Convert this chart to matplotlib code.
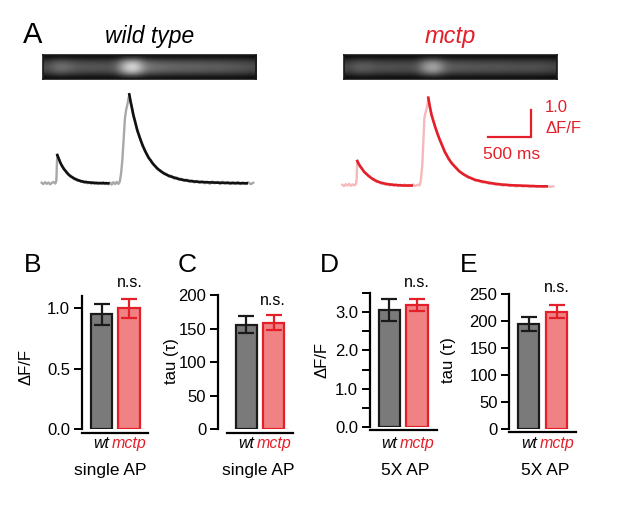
import numpy as np
import matplotlib
matplotlib.use("Agg")
import matplotlib.pyplot as plt

plt.rcParams['font.family'] = ['Liberation Sans', 'DejaVu Sans']

RED = '#e3202a'
PINK = '#f5b9bb'
GRAY_RAW = '#a8a8a8'
BAR_GRAY = '#7a7a7a'
BAR_RED = '#f08284'

# ---- panel A data (time in ms, amplitude in dF/F) ----
wt_raw_t = [0, 20, 40, 60, 80, 100, 120, 140, 160, 172, 178, 183, 195, 210, 225, 240, 260, 280,
            300, 320, 340, 360, 380, 400, 420, 440, 460, 480, 500, 520, 540, 560, 580, 600, 620,
            640, 660, 680, 700, 720, 740, 760, 780, 800, 820, 840, 860, 880, 900, 915, 930, 945,
            960, 975, 990, 1005, 1015, 1027, 1040, 1055, 1075, 1095, 1120, 1150, 1180, 1210,
            1250, 1280, 1310, 1340, 1370, 1400, 1430, 1460, 1490, 1520, 1550, 1580, 1610, 1640,
            1670, 1700, 1730, 1760, 1790, 1820, 1850, 1880, 1910, 1940, 1970, 2000, 2030, 2060,
            2090, 2120, 2150, 2180, 2210, 2240, 2270, 2300, 2330, 2360, 2390, 2420, 2450, 2480]
wt_raw_v = [0.02, -0.03, 0.04, -0.02, 0.03, -0.04, 0.02, 0.05, -0.01, 0.10, 0.70, 1.05, 0.95,
            0.86, 0.72, 0.66, 0.52, 0.47, 0.36, 0.33, 0.24, 0.24, 0.15, 0.17, 0.09, 0.12, 0.05,
            0.09, 0.02, 0.07, 0.00, 0.05, -0.02, 0.04, -0.02, 0.03, -0.03, 0.02, -0.02, 0.04,
            -0.03, 0.02, -0.04, 0.03, -0.05, 0.04, -0.03, 0.05, -0.02, 0.06, 0.35, 0.85, 1.60,
            2.40, 2.75, 2.95, 3.15, 3.30, 3.05, 2.90, 2.50, 2.35, 1.95, 1.75, 1.40, 1.26, 0.95,
            0.86, 0.70, 0.62, 0.50, 0.47, 0.36, 0.36, 0.25, 0.28, 0.18, 0.22, 0.13, 0.17, 0.09,
            0.14, 0.06, 0.11, 0.03, 0.09, 0.02, 0.08, 0.00, 0.06, -0.02, 0.07, 0.00, 0.05, -0.03,
            0.06, -0.01, 0.05, -0.03, 0.04, -0.02, 0.05, -0.03, 0.03, -0.02, 0.04, -0.03, 0.02]
wt_fit1_t = [183, 200, 220, 240, 260, 290, 320, 360, 400, 450, 500, 560, 640, 781]
wt_fit1_v = [1.06, 0.92, 0.76, 0.64, 0.54, 0.42, 0.31, 0.22, 0.15, 0.09, 0.05, 0.03, 0.01, 0.0]
wt_fit2_t = [1027, 1040, 1055, 1075, 1095, 1120, 1150, 1180, 1210, 1250, 1300, 1350, 1400,
             1450, 1500, 1575, 1650, 1750, 1850, 2000, 2200, 2403]
wt_fit2_v = [3.33, 3.10, 2.86, 2.56, 2.30, 2.00, 1.70, 1.45, 1.22, 0.98, 0.75, 0.57, 0.44,
             0.34, 0.27, 0.19, 0.13, 0.08, 0.05, 0.03, 0.01, 0.0]

mc_raw_t = [0, 20, 40, 60, 80, 100, 120, 140, 160, 168, 172, 176, 190, 210, 230, 255, 280, 305,
            330, 355, 380, 405, 430, 455, 480, 505, 530, 555, 580, 605, 630, 655, 680, 705, 730,
            755, 780, 805, 830, 855, 880, 905, 920, 938, 950, 962, 975, 989, 1000, 1008, 1025,
            1045, 1065, 1087, 1110, 1140, 1165, 1200, 1243, 1280, 1321, 1370, 1420, 1477, 1520,
            1560, 1600, 1640, 1680, 1720, 1760, 1800, 1840, 1880, 1920, 1960, 2000, 2040, 2080,
            2120, 2160, 2200, 2240, 2280, 2320, 2360, 2400, 2440, 2474]
mc_raw_v = [0.01, -0.04, 0.03, -0.02, 0.04, -0.03, 0.02, -0.01, 0.03, 0.20, 0.60, 0.88, 0.82,
            0.68, 0.63, 0.48, 0.44, 0.33, 0.30, 0.21, 0.20, 0.11, 0.13, 0.05, 0.08, 0.01, 0.05,
            -0.02, 0.03, -0.03, 0.02, -0.04, 0.01, -0.03, 0.02, -0.04, 0.00, -0.03, 0.02, -0.04,
            0.01, -0.02, 0.15, 0.75, 1.60, 2.50, 2.70, 2.87, 3.05, 3.24, 2.98, 2.60, 2.45, 2.15,
            2.00, 1.68, 1.55, 1.22, 1.02, 0.80, 0.70, 0.50, 0.42, 0.28, 0.26, 0.16, 0.18, 0.09,
            0.12, 0.04, 0.08, 0.00, 0.04, -0.03, 0.02, -0.04, 0.00, -0.06, -0.02, -0.06, -0.03,
            -0.07, -0.03, -0.07, -0.04, -0.08, -0.04, -0.07, -0.05]
mc_fit1_t = [176, 190, 210, 230, 255, 280, 305, 340, 380, 420, 470, 530, 620, 720, 814]
mc_fit1_v = [0.90, 0.80, 0.70, 0.61, 0.50, 0.42, 0.35, 0.26, 0.18, 0.12, 0.07, 0.03, 0.0,
             -0.02, -0.02]
mc_fit2_t = [1008, 1025, 1045, 1065, 1087, 1110, 1140, 1165, 1200, 1243, 1280, 1321, 1370,
             1420, 1477, 1550, 1610, 1673, 1760, 1860, 1980, 2150, 2300, 2396]
mc_fit2_v = [3.27, 2.95, 2.65, 2.42, 2.20, 1.97, 1.72, 1.52, 1.26, 1.00, 0.83, 0.68, 0.52,
             0.40, 0.30, 0.20, 0.15, 0.11, 0.06, 0.02, -0.01, -0.03, -0.05, -0.05]

# line-scan images: brightness along the strip and across it
wt_strip_cols = [0.30, 0.45, 0.42, 0.35, 0.34, 0.34, 0.33, 0.36, 0.80, 0.90, 0.50, 0.44,
                 0.42, 0.40, 0.39, 0.39, 0.38, 0.37, 0.37, 0.35, 0.34, 0.30]
mc_strip_cols = [0.28, 0.38, 0.36, 0.32, 0.32, 0.31, 0.31, 0.32, 0.62, 0.68, 0.40, 0.35,
                 0.35, 0.34, 0.34, 0.33, 0.33, 0.32, 0.32, 0.32, 0.31, 0.28]
strip_rows = [0.15, 0.6, 0.9, 1.0, 0.9, 0.6, 0.15]

# ---- panels B-E data ----
groups = ['wt', 'mctp']
amp_single = [0.95, 1.00]
amp_single_err = [0.09, 0.08]
tau_single = [156, 159]
tau_single_err = [12.5, 10.5]
amp_5x = [3.06, 3.19]
amp_5x_err = [0.28, 0.15]
tau_5x = [195, 218]
tau_5x_err = [12.5, 13]

W, H = 617, 507
fig = plt.figure(figsize=(W / 100, H / 100), dpi=100)


def px_axes(x0, y0, x1, y1):
    return fig.add_axes([x0 / W, 1 - y1 / H, (x1 - x0) / W, (y1 - y0) / H])


def ftext(x, y, s, **kw):
    fig.text(x / W, 1 - y / H, s, **kw)


# ---- panel A ----
ftext(23, 42.7, 'A', fontsize=21, va='baseline', ha='left')
ftext(150, 42.7, 'wild type', fontsize=16.5, style='italic', ha='center', va='baseline')
ftext(450, 42.7, 'mctp', fontsize=17, style='italic', ha='center', va='baseline', color=RED)

for (x0, x1), cols in [((42.5, 255.5), wt_strip_cols), ((344.3, 557.3), mc_strip_cols)]:
    ax = px_axes(x0, 55, x1, 79)
    img = np.outer(strip_rows, cols)
    ax.imshow(img, cmap='gray', vmin=0, vmax=1, aspect='auto', interpolation='bicubic')
    for s in ax.spines.values():
        s.set_color('#181818')
        s.set_linewidth(1.2)
    ax.set_xticks([])
    ax.set_yticks([])

ax = px_axes(35, 85, 265, 195)
ax.plot(wt_raw_t, wt_raw_v, color=GRAY_RAW, lw=1.7)
ax.plot(wt_fit1_t, wt_fit1_v, color='#111111', lw=1.9)
ax.plot(wt_fit2_t, wt_fit2_v, color='#111111', lw=1.9)
ax.set_xlim(-78.5, 2618)
ax.set_ylim(-0.438, 3.68)
ax.axis('off')

ax = px_axes(335, 85, 565, 195)
ax.plot(mc_raw_t, mc_raw_v, color=PINK, lw=1.7)
ax.plot(mc_fit1_t, mc_fit1_v, color=RED, lw=1.9)
ax.plot(mc_fit2_t, mc_fit2_v, color=RED, lw=1.9)
# scale bar: 500 ms x 1.0 dF/F
ax.plot([1712, 2212, 2212], [1.81, 1.81, 2.81], color=RED, lw=1.6,
        solid_joinstyle='miter', clip_on=False)
ax.set_xlim(-85.6, 2611)
ax.set_ylim(-0.375, 3.745)
ax.axis('off')
ftext(545, 111.7, '1.0', fontsize=12, color=RED, va='baseline')
ftext(545, 132.7, '\u0394F/F', fontsize=12, color=RED, va='baseline')
ftext(512, 159.3, '500 ms', fontsize=12.5, color=RED, ha='center', va='baseline')


# ---- panels B-E ----
def bar_panel(box, means, errs, ylim, ticks, ticklabels, xlim, width, bounds=None, drop=2.5):
    ax = px_axes(*box)
    ax.bar([0, 1], means, width=width, color=[BAR_GRAY, BAR_RED],
           edgecolor=['#1a1a1a', RED], linewidth=1.6, zorder=2)
    for i, c in enumerate(['#1a1a1a', RED]):
        ax.errorbar(i, means[i], yerr=errs[i], color=c, lw=1.6, capsize=5.5,
                    capthick=1.6, zorder=3)
    ax.set_ylim(*ylim)
    ax.set_xlim(*xlim)
    ax.set_yticks(ticks)
    ax.set_yticklabels(ticklabels)
    ax.set_xticks([])
    ax.tick_params(axis='y', length=6, width=1.4, labelsize=12, pad=2.5)
    for s in ['top', 'right']:
        ax.spines[s].set_visible(False)
    ax.spines['left'].set_linewidth(1.6)
    ax.spines['bottom'].set_linewidth(1.6)
    ax.spines['bottom'].set_position(('outward', drop))
    if bounds is not None:
        ax.spines['bottom'].set_bounds(*bounds)
    ax.patch.set_alpha(0)
    # group names under the bars
    below = (448.3 - box[3]) * 72 / 100
    for i, c in enumerate(['black', RED]):
        ax.annotate(groups[i], xy=(i, 0), xycoords=('data', 'axes fraction'),
                    xytext=(0, -below), textcoords='offset points', ha='center',
                    va='baseline', fontsize=11.5, style='italic', color=c)
    return ax


bar_panel((82, 296.3, 148, 429.3), amp_single, amp_single_err, (0, 1.1),
          [0, 0.5, 1.0], ['0.0', '0.5', '1.0'], (-0.709, 1.69), 0.78)
bar_panel((218, 295, 293, 429.3), tau_single, tau_single_err, (0, 200),
          [0, 50, 100, 150, 200], ['0', '50', '100', '150', '200'], (-1.02, 1.70), 0.76,
          bounds=(-0.70, 1.70))
bar_panel((370, 293.3, 436.7, 426.7), amp_5x, amp_5x_err, (0, 3.5),
          [0, 0.5, 1, 1.5, 2, 2.5, 3, 3.5], ['0.0', '', '1.0', '', '2.0', '', '3.0', ''],
          (-0.71, 1.72), 0.77)
bar_panel((509.3, 294.3, 576, 428.7), tau_5x, tau_5x_err, (0, 250),
          [0, 50, 100, 150, 200, 250], ['0', '50', '100', '150', '200', '250'],
          (-0.70, 1.68), 0.75)

for x, letter in [(24, 'B'), (178, 'C'), (320, 'D'), (460, 'E')]:
    ftext(x, 271.7, letter, fontsize=19, va='baseline', ha='left')
for x, y in [(130, 286.7), (273, 305), (416.7, 286.7), (556.7, 291.7)]:
    ftext(x, y, 'n.s.', fontsize=11.5, ha='center', va='baseline')
for x, y, s in [(26, 366.7, '\u0394F/F'), (171.5, 361, 'tau (\u03c4)'),
                (321.7, 360, '\u0394F/F'), (448.5, 360, 'tau (\u03c4)')]:
    ftext(x, y, s, fontsize=12, rotation=90, ha='center', va='center')
for x, s in [(110, 'single AP'), (258.3, 'single AP'), (405, '5X AP'), (545, '5X AP')]:
    ftext(x, 475, s, fontsize=12.5, ha='center', va='baseline')

fig.savefig('out.png', dpi=100)
